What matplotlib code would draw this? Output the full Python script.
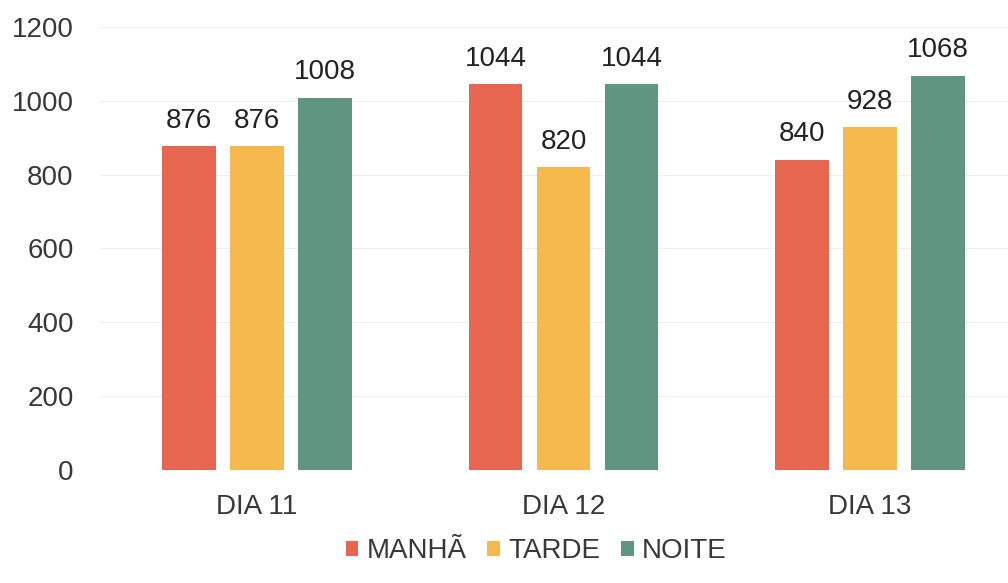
import numpy as np
import matplotlib.pyplot as plt

# valores
dias = ["DIA 11", "DIA 12", "DIA 13"]
manha = [876, 1044, 840]
tarde = [876, 820, 928]
noite = [1008, 1044, 1068]
series = ["MANHÃ", "TARDE", "NOITE"]
cores = ["#E6664F", "#F6B94E", "#5F9581"]

plt.rcParams["font.family"] = ["Liberation Sans", "DejaVu Sans"]

fig = plt.figure(figsize=(10.08, 5.83), dpi=100)
ax = fig.add_axes([0.0992, 0.194, 0.9008, 0.76])

x = np.arange(len(dias))
w = 0.175
step = 0.222
for i, (vals, nome, cor) in enumerate(zip([manha, tarde, noite], series, cores)):
    pos = x + (i - 1) * step
    bars = ax.bar(pos, vals, width=w, color=cor, label=nome)
    for b, v in zip(bars, vals):
        ax.annotate(str(v), (b.get_x() + b.get_width() / 2, v),
                    xytext=(0, 9), textcoords="offset points",
                    ha="center", va="bottom", fontsize=20, color="#222222")

ax.set_ylim(0, 1200)
ax.set_xlim(-0.512, 2.45)
ax.set_yticks(range(0, 1201, 200))
ax.set_xticks(x)
ax.set_xticklabels(dias)
ax.tick_params(axis="both", length=0, labelsize=20, colors="#383838")
ax.tick_params(axis="x", pad=17)
ax.tick_params(axis="y", pad=19)
ax.grid(axis="y", color="#EEEEEE", linewidth=0.8)
ax.set_axisbelow(True)
for s in ax.spines.values():
    s.set_visible(False)

fig.legend(loc="center", bbox_to_anchor=(0.532, 0.055), ncol=3, frameon=False,
           fontsize=20, handlelength=0.45, handleheight=0.45, handletextpad=0.3,
           columnspacing=0.75, labelcolor="#383838")

plt.savefig("out.png", dpi=100)
